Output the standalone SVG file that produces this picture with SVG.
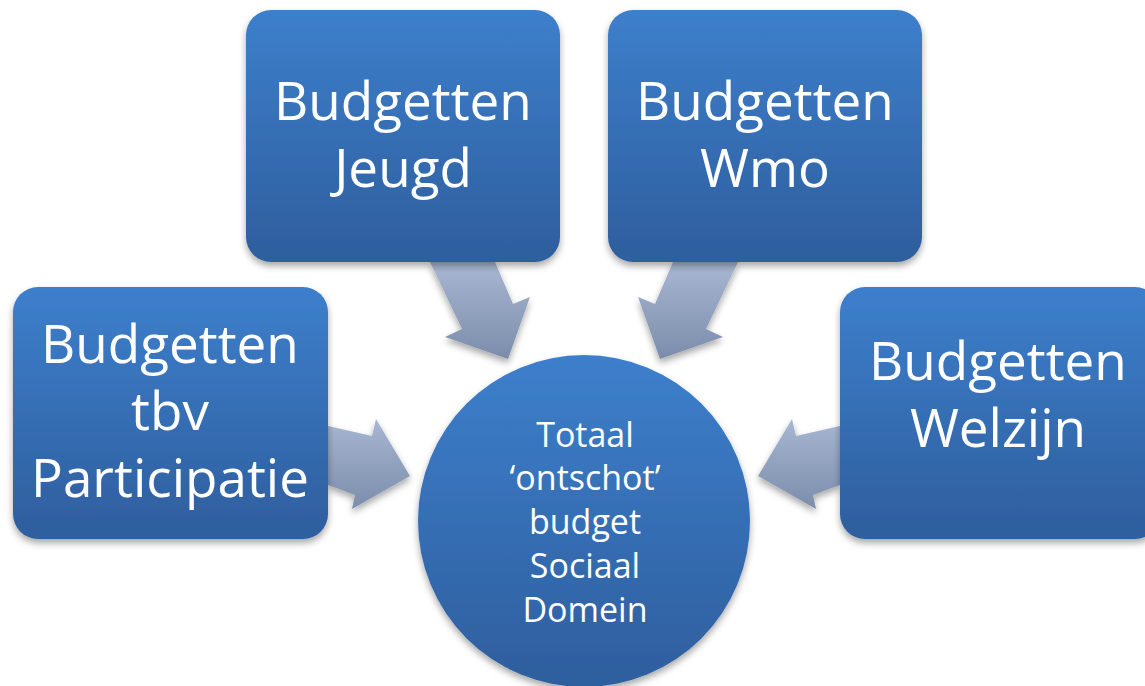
<svg xmlns="http://www.w3.org/2000/svg" width="1145" height="686" viewBox="0 0 1145 686">
<defs>
<linearGradient id="gBox" x1="0" y1="0" x2="0" y2="1">
<stop offset="0" stop-color="#3d7fcc"/>
<stop offset="1" stop-color="#2e5e9d"/>
</linearGradient>
<linearGradient id="gArrow" x1="0" y1="0" x2="0" y2="1">
<stop offset="0" stop-color="#a8b7d2"/>
<stop offset="1" stop-color="#7b8dab"/>
</linearGradient>
<filter id="sh" x="-20%" y="-20%" width="140%" height="140%">
<feDropShadow dx="0" dy="4" stdDeviation="3.5" flood-color="#000" flood-opacity="0.35"/>
</filter>
<style>
.box{fill:url(#gBox);filter:url(#sh)}
.arr{fill:url(#gArrow);filter:url(#sh)}
.t{font-family:"Open Sans","Liberation Sans",sans-serif;fill:#fff;text-anchor:middle}
.big{font-size:53px}
.small{font-size:34px}
</style>
</defs>
<rect width="1145" height="686" fill="#fff"/>
<g id="connectors">
<polygon class="arr" points="430,262 495,262 513,304 530,297 508,359 445,337 462,329"/>
<polygon class="arr" points="673,262 738,262 706,329 723,337 660,359 638,297 655,304"/>
<polygon class="arr" points="328,426 372,436 376,419 410,476 352,509 355,495 328,485"/>
<polygon class="arr" points="840,426 796,436 792,419 758,476 816,509 813,495 840,485"/>
</g>
<g id="node-participatie">
<rect class="box" x="13" y="287" width="315" height="252" rx="25"/>
<text class="t big" x="170" y="363">Budgetten</text>
<text class="t big" x="170" y="430">tbv</text>
<text class="t big" x="170" y="497">Participatie</text>
</g>
<g id="node-jeugd">
<rect class="box" x="246" y="10" width="314" height="252" rx="25"/>
<text class="t big" x="403" y="120">Budgetten</text>
<text class="t big" x="403" y="187">Jeugd</text>
</g>
<g id="node-wmo">
<rect class="box" x="608" y="10" width="314" height="252" rx="25"/>
<text class="t big" x="765" y="120">Budgetten</text>
<text class="t big" x="765" y="187">Wmo</text>
</g>
<g id="node-welzijn">
<rect class="box" x="840" y="287" width="320" height="252" rx="25"/>
<text class="t big" x="998" y="380">Budgetten</text>
<text class="t big" x="998" y="447">Welzijn</text>
</g>
<g id="node-totaal">
<circle class="box" cx="584" cy="521" r="166"/>
<text class="t small" x="585" y="447">Totaal</text>
<text class="t small" x="585" y="490">‘ontschot’</text>
<text class="t small" x="585" y="534">budget</text>
<text class="t small" x="585" y="578">Sociaal</text>
<text class="t small" x="585" y="622">Domein</text>
</g>
</svg>
